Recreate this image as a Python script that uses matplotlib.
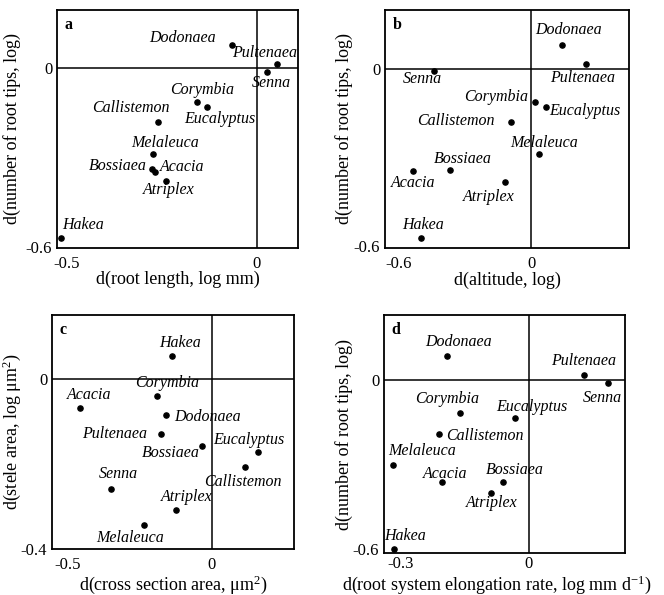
import numpy as np
import matplotlib
matplotlib.use('Agg')
import matplotlib.pyplot as plt

plt.rcParams['font.family'] = ['Liberation Serif', 'DejaVu Serif']
plt.rcParams['mathtext.fontset'] = 'custom'
plt.rcParams['mathtext.rm'] = 'Liberation Serif'
plt.rcParams['mathtext.it'] = 'Liberation Serif:italic'

# especies (mismo orden en todos los paneles)
especies = ['Dodonaea', 'Pultenaea', 'Senna', 'Corymbia', 'Eucalyptus', 'Callistemon',
            'Melaleuca', 'Bossiaea', 'Acacia', 'Atriplex', 'Hakea']

# panel a: longitud de raiz vs puntas de raiz
a_x = [-0.065, 0.052, 0.027, -0.159, -0.131, -0.259, -0.273, -0.276, -0.267, -0.239, -0.516]
a_y = [0.077, 0.013, -0.012, -0.113, -0.130, -0.182, -0.288, -0.340, -0.349, -0.380, -0.569]

# panel b: altitud vs puntas de raiz
b_x = [0.139, 0.247, -0.440, 0.018, 0.065, -0.090, 0.033, -0.367, -0.532, -0.118, -0.498]
b_y = [0.080, 0.018, -0.008, -0.111, -0.129, -0.181, -0.289, -0.342, -0.347, -0.383, -0.575]

# panel c: area de seccion vs area de estela
c_x = [-0.160, -0.177, -0.352, -0.190, 0.159, 0.114, -0.238, -0.036, -0.457, -0.124, -0.140]
c_y = [-0.086, -0.129, -0.260, -0.040, -0.172, -0.208, -0.344, -0.159, -0.069, -0.309, 0.054]

# panel d: tasa de elongacion vs puntas de raiz
d_x = [-0.191, 0.131, 0.187, -0.161, -0.033, -0.210, -0.318, -0.061, -0.204, -0.088, -0.316]
d_y = [0.087, 0.019, -0.008, -0.115, -0.133, -0.192, -0.301, -0.360, -0.362, -0.400, -0.600]

# posicion de etiquetas (pixeles: dx, dy, alineacion)
off_a = [(-16, 7, 'right'), (-12, 11, 'center'), (4, -11, 'center'), (6, 12, 'center'),
         (13, -12, 'center'), (-28, 14, 'center'), (12, 11, 'center'), (-5, 3, 'right'),
         (4, 5, 'left'), (3, -9, 'center'), (1, 13, 'left')]
off_b = [(6, 15, 'center'), (-4, -14, 'center'), (-11, -8, 'center'), (-7, 5, 'right'),
         (3, -4, 'left'), (-17, 1, 'right'), (5, 11, 'center'), (13, 11, 'center'),
         (0, -12, 'center'), (-16, -15, 'center'), (2, 13, 'center')]
off_c = [(8, -2, 'left'), (-14, 0, 'right'), (8, 15, 'center'), (10, 13, 'center'),
         (-9, 12, 'center'), (-2, -15, 'center'), (-13, -13, 'center'), (-2, -7, 'right'),
         (9, 13, 'center'), (10, 13, 'center'), (8, 13, 'center')]
off_d = [(11, 14, 'center'), (-1, 14, 'center'), (-6, -15, 'center'), (-13, 14, 'center'),
         (17, 11, 'center'), (7, -2, 'left'), (29, 14, 'center'), (12, 12, 'center'),
         (4, 8, 'center'), (1, -10, 'center'), (11, 13, 'center')]

W, H = 664, 595
fig = plt.figure(figsize=(W / 100, H / 100), dpi=100)


def panel(caja, x, y, off, letra, xlim, ylim, xticks, yticks, xlabel, ylabel, lab_x, lab_y,
          xl_size=13, x_pad=5.5, xl_center=0.5):
    izq, arr, der, aba = caja
    ax = fig.add_axes([izq / W, (H - aba) / H, (der - izq) / W, (aba - arr) / H])
    ax.scatter(x, y, s=14, color='black', zorder=3)
    for nombre, xi, yi, (dx, dy, ha) in zip(especies, x, y, off):
        ax.annotate(nombre, (xi, yi), xytext=(dx, dy), textcoords='offset pixels',
                    ha=ha, va='center', fontsize=11.5, style='italic')
    ax.axhline(0, color='black', lw=1.1)
    ax.axvline(0, color='black', lw=1.1)
    ax.set_xlim(xlim)
    ax.set_ylim(ylim)
    ax.set_xticks(xticks)
    ax.set_yticks(yticks)
    ax.set_xticklabels([f'{t:g}' for t in xticks])
    ax.set_yticklabels([f'{t:g}' for t in yticks])
    ax.tick_params(length=0, labelsize=12)
    ax.tick_params(axis='x', pad=x_pad)
    ax.tick_params(axis='y', pad=3.5)
    for s in ax.spines.values():
        s.set_linewidth(1.3)
    ax.set_xlabel(xlabel, fontsize=xl_size)
    ax.set_ylabel(ylabel, fontsize=13)
    ax.xaxis.set_label_coords(xl_center, lab_x)
    ax.yaxis.set_label_coords(lab_y, 0.5)
    ax.text(0.03, 0.935, letra, transform=ax.transAxes, fontweight='bold',
            fontsize=11.5, va='center')
    return ax


panel((57, 10, 298, 248), a_x, a_y, off_a, 'a', (-0.526, 0.108), (-0.604, 0.195),
      [-0.5, 0], [-0.6, 0], 'd(root length, log mm)', 'd(number of root tips, log)',
      -0.095, -0.15)
panel((385, 10, 629, 248), b_x, b_y, off_b, 'b', (-0.66, 0.44), (-0.608, 0.20),
      [-0.6, 0], [-0.6, 0], 'd(altitude, log)', 'd(number of root tips, log)',
      -0.10, -0.13)
panel((52, 315, 294, 549), c_x, c_y, off_c, 'c', (-0.556, 0.285), (-0.40, 0.150),
      [-0.5, 0], [-0.4, 0], 'd(cross section area, μm$^2$)', 'd(stele area, log μm$^2$)',
      -0.105, -0.12)
panel((384, 315, 625, 553), d_x, d_y, off_d, 'd', (-0.339, 0.226), (-0.614, 0.233),
      [-0.3, 0], [-0.6, 0], 'd(root system elongation rate, log mm d$^{-1}$)',
      'd(number of root tips, log)', -0.085, -0.13, xl_size=13, x_pad=2.5,
      xl_center=0.47)

fig.savefig('out.png', dpi=100)
